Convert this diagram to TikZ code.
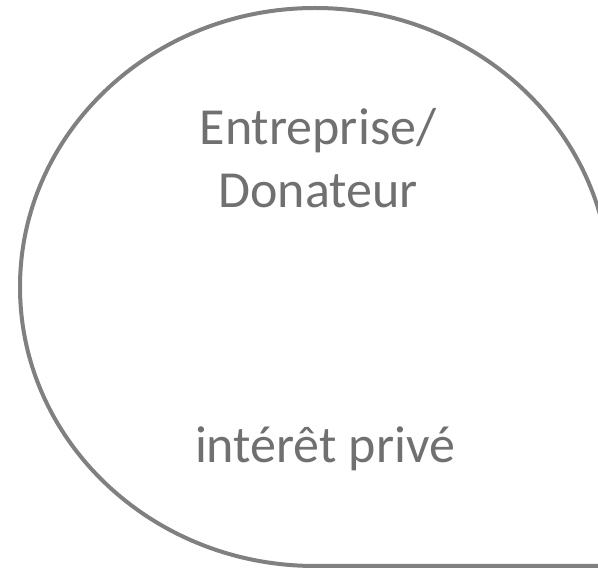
\documentclass[tikz,border=0pt]{standalone}
\usepackage{fontspec}
\setmainfont{Carlito}
\definecolor{linegray}{RGB}{128,128,128}
\definecolor{textgray}{RGB}{112,112,112}
\tikzset{
  outline/.style={draw=linegray, line width=4pt},
  bigtext/.style={text=textgray, font=\fontsize{52}{63}\selectfont, align=center, inner sep=0pt, anchor=base}
}
\begin{document}
\begin{tikzpicture}[x=1pt,y=1pt]
\useasboundingbox (0,0) rectangle (598,568);
\clip (0,0) rectangle (598,568);
\path[outline] (630,2) -- (315,2) arc[start angle=-90, end angle=-360, x radius=295, y radius=279] -- (610,2);
\node[bigtext] (who) at (318,360) {Entreprise/\\Donateur};
\node[bigtext] (interest) at (325,105) {intérêt privé};
\end{tikzpicture}
\end{document}
